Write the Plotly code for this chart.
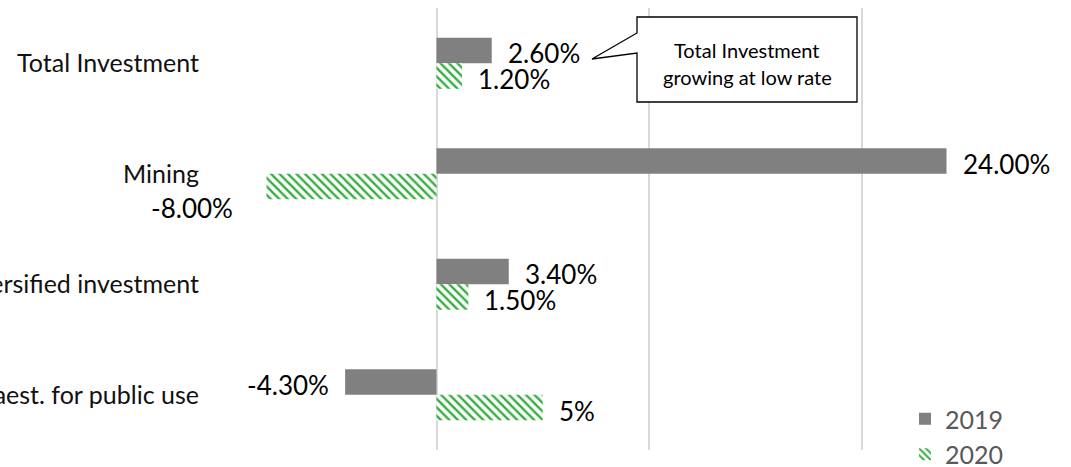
import plotly.graph_objects as go

categories = ["Total Investment", "Mining", "Diversified investment", "Infraest. for public use"]
values_2019 = [2.6, 24.0, 3.4, -4.3]
values_2020 = [1.2, -8.0, 1.5, 5.0]
labels_2019 = ["2.60%", "24.00%", "3.40%", "-4.30%"]
labels_2020 = ["1.20%", "-8.00%", "1.50%", "5%"]
series_names = ["2019", "2020"]
callout_lines = ["Total Investment", "growing at low rate"]

W, H = 1071, 467
ML, MR, MT, MB = 224, 0, 8, 17
PW, PH = W - ML - MR, H - MT - MB
FONT = "Lato"

def px(xp):
    return (xp - ML) / PW

def py(yp):
    return (H - MB - yp) / PH

fig = go.Figure()
fig.add_trace(go.Bar(
    y=categories, x=values_2019, name=series_names[0], orientation="h",
    marker=dict(color="#808080", line=dict(width=0)), legendgroup="a",
))
fig.add_trace(go.Bar(
    y=categories, x=values_2020, name=series_names[1], orientation="h",
    marker=dict(color="white", line=dict(width=0),
                pattern=dict(shape="\\", fgcolor="#36ad41", bgcolor="white",
                             fgopacity=1, size=6, solidity=0.4)),
    legendgroup="b",
))

annotations = []
for cat, v, lab in zip(categories, values_2019, labels_2019):
    annotations.append(dict(
        x=v, y=cat, xref="x", yref="y", text=lab, showarrow=False,
        xanchor="left" if v >= 0 else "right", xshift=14 if v >= 0 else -14,
        yshift=10, font=dict(family=FONT, size=26, color="#000000"),
    ))
for cat, v, lab in zip(categories, values_2020, labels_2020):
    if v < 0:
        xs, ys = -32, -34
    else:
        xs, ys = 14, -16
    annotations.append(dict(
        x=v, y=cat, xref="x", yref="y", text=lab, showarrow=False,
        xanchor="left" if v >= 0 else "right", xshift=xs, yshift=ys,
        font=dict(family=FONT, size=26, color="#000000"),
    ))

# callout text
for i, line in enumerate(callout_lines):
    annotations.append(dict(
        x=px(747), y=py(50 + 27 * i), xref="paper", yref="paper", text=line,
        showarrow=False, xanchor="center", yanchor="middle",
        font=dict(family=FONT, size=20, color="#000000"),
    ))

pts = [(637, 17), (857, 17), (857, 102), (637, 102), (637, 53), (592, 59), (637, 33)]
path = "M " + " L ".join(f"{px(a):.5f},{py(b):.5f}" for a, b in pts) + " Z"
shapes = [dict(type="path", path=path, xref="paper", yref="paper",
               fillcolor="white", line=dict(color="#000000", width=1.3), layer="above")]

fig.update_layout(
    width=W, height=H,
    margin=dict(l=ML, r=MR, t=MT, b=MB, autoexpand=False),
    paper_bgcolor="white", plot_bgcolor="white",
    barmode="group", bargap=0.538, bargroupgap=0,
    annotations=annotations, shapes=shapes,
    showlegend=True,
    legend=dict(x=px(905), y=py(396), xanchor="left", yanchor="top",
                font=dict(family=FONT, size=25, color="#595959"),
                tracegroupgap=0, bgcolor="rgba(0,0,0,0)"),
    xaxis=dict(range=[-10, -10 + PW / 21.25], dtick=10, tick0=0,
               showgrid=True, gridcolor="#d9d9d9", gridwidth=2,
               zeroline=True, zerolinecolor="#d9d9d9", zerolinewidth=2,
               showticklabels=False, showline=False, fixedrange=True),
    yaxis=dict(type="category", categoryorder="array", categoryarray=categories,
               autorange="reversed", showgrid=False, zeroline=False, showline=False,
               ticks="", ticklabelstandoff=24, automargin=False, fixedrange=True,
               tickfont=dict(family=FONT, size=25, color="#111111")),
)

fig.write_html("out.html", config={"displayModeBar": False},
               post_script="document.body.style.margin='0';document.body.style.padding='0';")
